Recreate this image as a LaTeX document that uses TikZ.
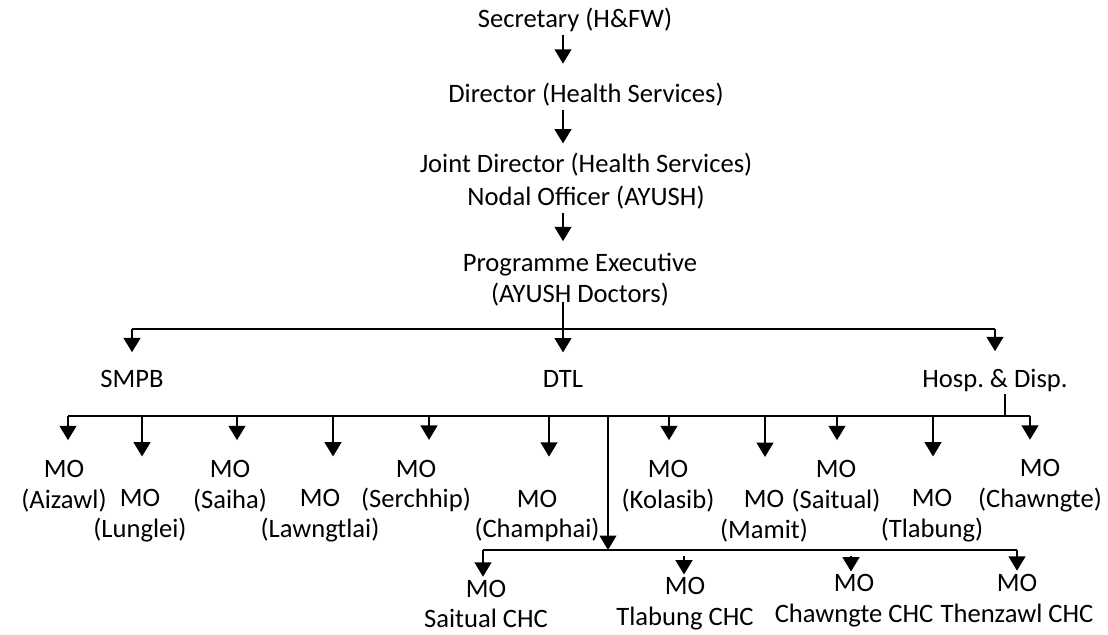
\documentclass[tikz,border=0pt]{standalone}
\usepackage{fontspec}
\setmainfont{Carlito}
\usetikzlibrary{arrows.meta}

\begin{document}
\begin{tikzpicture}[x=0.025cm,y=-0.025cm,
    font=\fontsize{18.9}{22}\selectfont,
    box/.style={align=center,inner sep=2pt},
    arr/.style={line width=1.4pt,-{Triangle[width=0.42cm,length=0.36cm]}},
    bus/.style={line width=1.4pt},
    thinl/.style={line width=0.9pt}]

  \useasboundingbox (0,0) rectangle (1108,635);

  % top of the chart
  \node[box,anchor=base](sec) at (575,28) {Secretary (H\&FW)};
  \node[box,anchor=base](dir) at (586,103) {Director (Health Services)};
  \node[box](jd) at (586,181) {Joint Director (Health Services)\\[2pt]Nodal Officer (AYUSH)};
  \node[box](pe) at (580,280) {Programme Executive\\(AYUSH Doctors)};

  \coordinate (spine) at (563,0);
  \draw[arr,shorten >=0.42cm] (sec.south -| spine) -- (dir.north -| spine);
  \draw[arr,shorten >=0.15cm] (dir.south -| spine) -- (jd.north -| spine);
  \draw[arr,shorten >=0.23cm] (jd.south -| spine) -- (pe.north -| spine);

  % SMPB / DTL / Hosp
  \node[box,anchor=base](smpb) at (132,387) {SMPB};
  \node[box,anchor=base](dtl) at (563,387) {DTL};
  \node[box,anchor=base](hosp) at (995,387) {Hosp.\ \& Disp.};

  \coordinate (bl) at (132,329);
  \coordinate (bm) at (563,329);
  \coordinate (br) at (995,329);
  \draw[bus] (bl) -- (br);
  \draw[thinl,shorten <=-0.2cm] (pe.south -| spine) -- (bm);
  \draw[arr,shorten >=0.36cm] (bm) -- (dtl);
  \draw[arr,shorten >=0.36cm] (bl) -- (smpb);
  \draw[arr,shorten >=0.36cm] (br) -- (hosp);

  % MO row
  \coordinate (ml) at (68,416);
  \coordinate (mr) at (1030,416);
  \coordinate (mh) at (1005,416);
  \draw[bus] (ml) -- (mr);
  \draw[thinl] (hosp.south -| mh) -- (mh);

  \foreach \nm/\px/\py/\lb in {aiz/64/486/Aizawl, lun/140/516/Lunglei,
      sah/230/486/Saiha, law/320/516/Lawngtlai, ser/416/486/Serchhip,
      chp/537/516/Champhai, kol/668/486/Kolasib, mam/764/516/Mamit,
      sat/836/486/Saitual, tla/932/516/Tlabung, chw/1040/486/Chawngte}
    \node[box](\nm) at (\px,\py) {MO\\(\lb)};

  \foreach \nm/\px/\sh in {aiz/68/0.42cm, lun/142/0.75cm, sah/237/0.42cm,
      law/333/0.75cm, ser/429/0.42cm, chp/549/0.75cm, kol/669/0.42cm,
      mam/765/0.75cm, sat/837/0.42cm, tla/933/0.75cm, chw/1030/0.42cm}{
    \coordinate (b\nm) at (\px,416);
    \draw[arr,shorten >=\sh] (b\nm) -- (\nm.north -| b\nm);
  }

  % CHC row
  \coordinate (dtop) at (608,416);
  \coordinate (dbot) at (608,550);
  \draw[thinl,-{Triangle[width=0.42cm,length=0.36cm]}] (dtop) -- (dbot);
  \coordinate (cl) at (483,550);
  \coordinate (cr) at (1017,550);
  \draw[bus] (cl) -- (cr);

  \foreach \nm/\px/\py/\lb in {csai/486/604/Saitual, ctla/685/604/Tlabung,
      cchw/854/601/Chawngte, cthe/1017/598/Thenzawl}
    \node[box](\nm) at (\px,\py) {MO\\\lb\ CHC};

  \foreach \nm/\px/\py in {csai/483/550, ctla/684/556, cchw/851/556, cthe/1017/550}{
    \coordinate (t\nm) at (\px,\py);
    \draw[arr] (t\nm) -- (\nm.north -| t\nm);
  }
\end{tikzpicture}
\end{document}
